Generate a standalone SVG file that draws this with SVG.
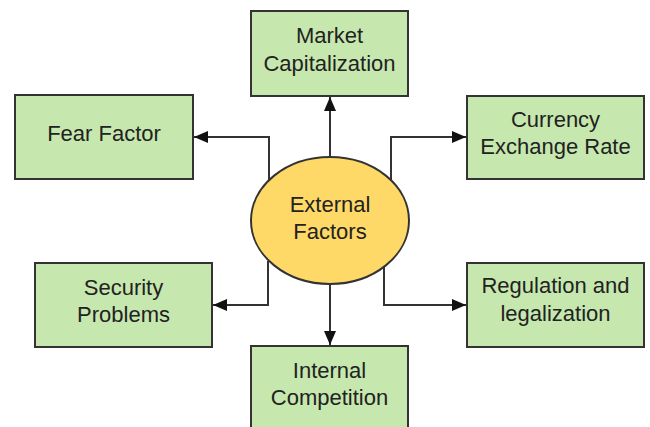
<svg xmlns="http://www.w3.org/2000/svg" width="650" height="427" viewBox="0 0 650 427">
  <defs>
    <marker id="arrow" viewBox="0 0 14 12" refX="14" refY="6" markerWidth="14" markerHeight="12" markerUnits="userSpaceOnUse" orient="auto">
      <path d="M0,0 L14,6 L0,12 z" fill="#111"/>
    </marker>
  </defs>
  <style>
    .box { fill: #c6e8ae; stroke: #333; stroke-width: 2; }
    .hub { fill: #fed967; stroke: #333; stroke-width: 2; }
    .lbl { font-family: "Liberation Sans", Arial, sans-serif; font-size: 22px; fill: #222; text-anchor: middle; }
    .wire { fill: none; stroke: #333; stroke-width: 2; marker-end: url(#arrow); }
  </style>
  <rect width="650" height="427" fill="#fff"/>

  <g id="connectors">
    <path class="wire" d="M330,157 L330,97"/>
    <path class="wire" d="M330,284 L330,345"/>
    <path class="wire" d="M269,180 L269,137 L194,137"/>
    <path class="wire" d="M391,180 L391,137 L466,137"/>
    <path class="wire" d="M268,261 L268,305 L213,305"/>
    <path class="wire" d="M384,267 L384,305 L466,305"/>
  </g>

  <g id="market-capitalization">
    <rect class="box" x="251" y="11" width="157" height="85"/>
    <text class="lbl" x="329.5" y="43">Market</text>
    <text class="lbl" x="329.5" y="71">Capitalization</text>
  </g>

  <g id="fear-factor">
    <rect class="box" x="15" y="95" width="178" height="84"/>
    <text class="lbl" x="104" y="141">Fear Factor</text>
  </g>

  <g id="currency-exchange-rate">
    <rect class="box" x="467" y="96" width="177" height="83"/>
    <text class="lbl" x="555.5" y="127">Currency</text>
    <text class="lbl" x="555.5" y="154">Exchange Rate</text>
  </g>

  <g id="security-problems">
    <rect class="box" x="35" y="263" width="177" height="84"/>
    <text class="lbl" x="123.5" y="295">Security</text>
    <text class="lbl" x="123.5" y="322">Problems</text>
  </g>

  <g id="regulation-legalization">
    <rect class="box" x="467" y="263" width="177" height="84"/>
    <text class="lbl" x="555.5" y="293">Regulation and</text>
    <text class="lbl" x="555.5" y="321">legalization</text>
  </g>

  <g id="internal-competition">
    <rect class="box" x="251" y="346" width="157" height="86"/>
    <text class="lbl" x="329.5" y="378">Internal</text>
    <text class="lbl" x="329.5" y="405">Competition</text>
  </g>

  <g id="external-factors">
    <ellipse class="hub" cx="330" cy="220.5" rx="79" ry="63.5"/>
    <text class="lbl" x="330" y="212">External</text>
    <text class="lbl" x="330" y="239">Factors</text>
  </g>
</svg>
